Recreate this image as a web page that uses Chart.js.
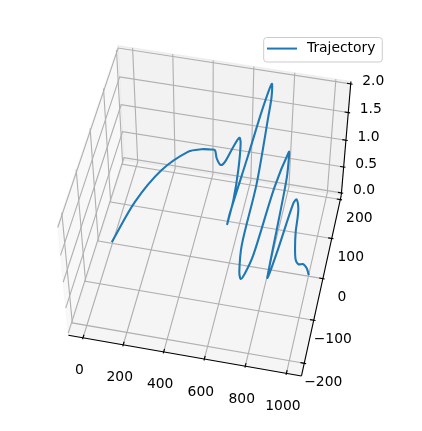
<!DOCTYPE html>
<html><head><meta charset="utf-8"><style>html,body{margin:0;padding:0;background:#fff}canvas{display:block}</style>
<script src="https://cdn.jsdelivr.net/npm/chart.js@4/dist/chart.umd.js"></script></head>
<body><canvas id="c" width="422" height="431"></canvas>
<script>
const seriesName = 'Trajectory';
const pathX = [0,88,206,333,405,451,480,501,530,550,573,593,606,625,636,634,636,662,681,700,712,715,715,716,730,742,755,772,797,826,831,841,846,849,855,866,883,893,909,914,914,923,935,949,969,987,1000];
const pathY = [0,55,92,108,99,91,82,60,42,45,77,94,81,24,-41,-92,-72,39,135,189,164,128,23,-115,-163,-173,-159,-115,37,120,111,69,-15,-131,-116,-58,61,74,60,43,28,7,-8,-7,7,7,0];
const pathZ = [0,.4,.8,1.1,1.25,1.33,1.4,1.42,1.45,1.5,1.55,1.6,1.6,1.55,1.5,1.45,1.5,1.7,1.85,1.95,1.9,1.8,1.35,1.3,1.2,1.15,1.15,1.15,1.25,1.3,1.28,1.2,1.1,.9,.9,.88,.82,.8,.75,.7,.55,.4,.3,.22,.12,.05,0];
const xTicks = [0,200,400,600,800,1000];
const yTicks = [-200,-100,0,100,200];
const zTicks = [0,0.5,1,1.5,2];
const yTickText = ['\u2212200','\u2212100','0','100','200'];
const zTickText = ['0.0','0.5','1.0','1.5','2.0'];
const xLim = [-50,1050], yLim = [-220,203], zLim = [0,2];
const elev = 51, azim = -78;

const FONT = '"DejaVu Sans"', FS = 13.89;
const BLUE = '#1f77b4', GRID = '#b0b0b0';
const pad = l => (l[1]-l[0])/48;
const xP = [xLim[0]-pad(xLim), xLim[1]+pad(xLim)], yP = [yLim[0]-pad(yLim), yLim[1]+pad(yLim)], zP = [zLim[0]-pad(zLim), zLim[1]+pad(zLim)];
const asp = [4,4,3].map(v => v*1.8294640721620434*25/24/Math.hypot(4,4,3));
const el = elev*Math.PI/180, az = azim*Math.PI/180;
const W = [Math.cos(el)*Math.cos(az), Math.cos(el)*Math.sin(az), Math.sin(el)];
const eye = asp.map((a,i) => a/2+10*W[i]);
const lu = Math.hypot(W[0],W[1]);
const U = [-W[1]/lu, W[0]/lu, 0];
const Vv = [W[1]*U[2]-W[2]*U[1], W[2]*U[0]-W[0]*U[2], W[0]*U[1]-W[1]*U[0]];
const dot = (a,b) => a[0]*b[0]+a[1]*b[1]+a[2]*b[2];
function project(x,y,z){
  const p = [(x-xLim[0])/(xLim[1]-xLim[0])*asp[0]-eye[0], (y-yLim[0])/(yLim[1]-yLim[0])*asp[1]-eye[1], (z-zLim[0])/(zLim[1]-zLim[0])*asp[2]-eye[2]];
  const d = -dot(p,W);
  return {x: dot(p,U)/d, y: dot(p,Vv)/d};
}
const poly = pts => pts.map(p => project(p[0],p[1],p[2]));
const lineDs = (pts,color,width,extra={}) => Object.assign({data: poly(pts), borderColor: color, borderWidth: width, pointRadius: 0, showLine: true, tension: 0, fill: false, clip: false, borderCapStyle:'butt', borderJoinStyle:'miter'}, extra);
const paneDs = (pts,fillC,edge) => lineDs(pts.concat([pts[0]]), edge, 1.1, {backgroundColor: fillC, fill: 'shape'});

const ds = [];
ds.push({label: seriesName, data: pathX.map((x,i) => project(x,pathY[i],pathZ[i])), borderColor: BLUE, backgroundColor: BLUE, borderWidth: 2.08, pointRadius: 0, showLine: true, tension: 0.3, fill: false, clip: false, borderCapStyle:'square', borderJoinStyle:'round'});
const txl = xLim[1]-xLim[0], tyl = yLim[1]-yLim[0];
ds.push(lineDs([[xP[0],yP[0],zP[0]],[xP[1],yP[0],zP[0]]],'#000',1.11));
ds.push(lineDs([[xP[1],yP[0],zP[0]],[xP[1],yP[1],zP[0]]],'#000',1.11));
ds.push(lineDs([[xP[1],yP[1],zP[0]],[xP[1],yP[1],zP[1]]],'#000',1.11));
xTicks.forEach(v => ds.push(lineDs([[v,yP[0]-tyl/120,zP[0]],[v,yP[0]+tyl/60,zP[0]]],'#000',1.11)));
yTicks.forEach(v => ds.push(lineDs([[xP[1]-txl/60,v,zP[0]],[xP[1]+txl/120,v,zP[0]]],'#000',1.11)));
zTicks.forEach(v => ds.push(lineDs([[xP[1]-txl/60,yP[1],v],[xP[1]+txl/120,yP[1],v]],'#000',1.11)));
xTicks.forEach(v => ds.push(lineDs([[v,yP[0],zP[0]],[v,yP[1],zP[0]],[v,yP[1],zP[1]]],GRID,1.11)));
yTicks.forEach(v => ds.push(lineDs([[xP[0],v,zP[1]],[xP[0],v,zP[0]],[xP[1],v,zP[0]]],GRID,1.11)));
zTicks.forEach(v => ds.push(lineDs([[xP[1],yP[1],v],[xP[0],yP[1],v],[xP[0],yP[0],v]],GRID,1.11)));
ds.push(paneDs([[xP[0],yP[0],zP[0]],[xP[1],yP[0],zP[0]],[xP[1],yP[1],zP[0]],[xP[0],yP[1],zP[0]]],'rgba(236,236,236,.5)','rgba(236,236,236,.5)'));
ds.push(paneDs([[xP[0],yP[1],zP[0]],[xP[1],yP[1],zP[0]],[xP[1],yP[1],zP[1]],[xP[0],yP[1],zP[1]]],'rgba(230,230,230,.5)','rgba(230,230,230,.5)'));
ds.push(paneDs([[xP[0],yP[0],zP[0]],[xP[0],yP[1],zP[0]],[xP[0],yP[1],zP[1]],[xP[0],yP[0],zP[1]]],'rgba(242,242,242,.5)','rgba(242,242,242,.5)'));

const swatch = document.createElement('canvas'); swatch.width = 33; swatch.height = 4;
{const g = swatch.getContext('2d'); g.fillStyle = BLUE; g.fillRect(0,1,30,2);}

const decor = {
  id: 'decor',
  beforeDraw(chart){
    const g = chart.ctx;
    g.save(); g.beginPath(); g.roundRect(263.7,37.5,118.6,24.5,3);
    g.fillStyle = 'rgba(255,255,255,.8)'; g.fill(); g.strokeStyle = '#cccccc'; g.lineWidth = 1; g.stroke(); g.restore();
    const l = chart.legend; l.left = 267; l.right = 380; l.top = 41.6; l.bottom = 60;
  },
  afterDraw(chart){
    const g = chart.ctx, sx = chart.scales.x, sy = chart.scales.y;
    g.save(); g.fillStyle = '#000'; g.font = FS+'px '+FONT; g.textAlign = 'center'; g.textBaseline = 'middle';
    const put = (p,t,dx,dy) => g.fillText(t, sx.getPixelForValue(p.x)+dx, sy.getPixelForValue(p.y)+dy);
    xTicks.forEach(v => put(project(v,yP[0],zP[0]), String(v), -3.5, 33));
    yTicks.forEach((v,i) => put(project(xP[1],v,zP[0]), yTickText[i], 19, 19));
    zTicks.forEach((v,i) => put(project(xP[1],yP[1],v), zTickText[i], 22.5, -3));
    g.restore();
  }
};
new Chart(document.getElementById('c'), {
  type: 'scatter',
  data: {datasets: ds},
  options: {
    responsive: false, animation: false, devicePixelRatio: 1,
    layout: {padding: 0},
    scales: {
      x: {type:'linear', display:false, min:(0-208.8)/1920.8, max:(422-208.8)/1920.8},
      y: {type:'linear', display:false, min:(431-209.1)/-1911, max:(0-209.1)/-1911}
    },
    plugins: {
      tooltip: {enabled:false},
      legend: {display:true, position:'chartArea', align:'start',
        labels: {filter: it => it.text === seriesName, usePointStyle:true, pointStyle: swatch, pointStyleWidth:33, boxHeight:6, padding:0, color:'#000', font:{family:FONT,size:FS}}}
    }
  },
  plugins: [decor]
});
</script></body></html>
